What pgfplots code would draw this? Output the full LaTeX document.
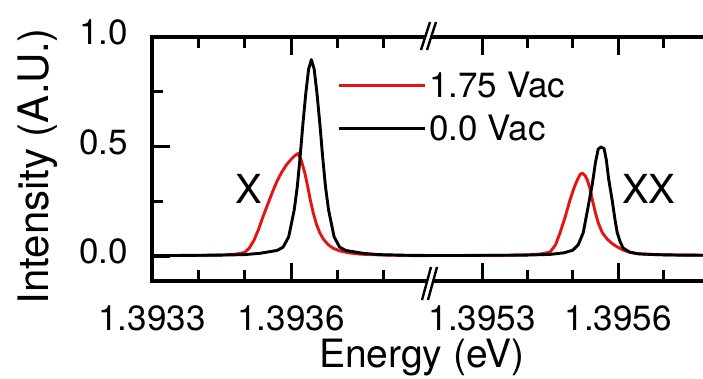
\documentclass[border=0pt]{standalone}
\usepackage{pgfplots}
\pgfplotsset{compat=1.18}
\usepackage{fontspec}
\setmainfont{TeX Gyre Heros}
\definecolor{mred}{RGB}{228,20,20}
% x values: (E - 1.3930 eV) x 10^4
\begin{document}
\begin{tikzpicture}[x=1pt,y=1pt]
\path[use as bounding box] (0,0) rectangle (703,378);
\pgfplotsset{
  common/.style={
    scale only axis, height=244pt, ymin=-0.11, ymax=1.0,
    separate axis lines,
    axis line style={line width=3.4pt, line cap=rect},
    tick align=inside,
    major tick length=18pt, minor tick length=11pt,
    tick style={line width=3pt, black},
    tick label style={font=\fontsize{35}{42}\selectfont, inner sep=0pt},
    /pgf/number format/assume math mode=true,
    xticklabel style={yshift=-24pt},
    yticklabel style={xshift=-24pt, yshift=5pt},
    every axis plot/.append style={line width=2.9pt, line join=round},
  }
}
\begin{axis}[common, at={(152pt,97pt)}, anchor=south west, width=278pt,
  xmin=3, xmax=9,
  axis x line*=box, axis y line*=left,
  xtick={3,6}, xticklabels={1.3933,1.3936}, minor xtick={4,5,7,8},
  ytick={0,0.5,1}, yticklabels={0.0,0.5,1.0}, minor ytick={0.25,0.75},
  ylabel={Intensity (A.U.)},
  ylabel style={at={(axis description cs:-0.41,0.47)}, anchor=center, rotate=0, font=\fontsize{42}{48}\selectfont},
  xlabel={Energy (eV)},
  xlabel style={at={(axis description cs:0.971,0)}, anchor=base, yshift=-86pt, font=\fontsize{39}{46}\selectfont, inner sep=0pt},
  legend style={at={(axis description cs:0.6655,0.8545)}, anchor=north west, draw=none, fill=none, inner sep=0pt,
    font=\fontsize{35}{42}\selectfont, row sep=18pt,
    nodes={inner sep=0pt, text height=25pt, text depth=0pt}},
  legend image code/.code={\draw[#1, line width=3.2pt] (0pt,0pt) -- (86pt,0pt); \path (89pt,0pt);},
  legend cell align=left,
]
\addplot[mred] coordinates {
(3.00,0.006) (3.50,0.006) (4.00,0.006) (4.50,0.008) (4.80,0.012) (5.00,0.020)
(5.10,0.040) (5.20,0.075) (5.30,0.125) (5.40,0.185) (5.50,0.240) (5.60,0.295)
(5.70,0.345) (5.80,0.385) (5.90,0.418) (6.00,0.443) (6.08,0.460) (6.15,0.470)
(6.22,0.440) (6.30,0.380) (6.36,0.320) (6.42,0.255) (6.48,0.200) (6.55,0.148)
(6.62,0.110) (6.70,0.080) (6.80,0.056) (6.90,0.040) (7.05,0.027) (7.25,0.018)
(7.50,0.012) (8.00,0.008) (8.50,0.006) (9.00,0.005)
};
\addlegendentry{1.75 Vac}
\addplot[black] coordinates {
(3.00,0.006) (3.50,0.006) (4.00,0.007) (4.50,0.008) (5.00,0.010) (5.33,0.016)
(5.70,0.029) (5.83,0.044) (5.95,0.091) (6.07,0.214) (6.135,0.318) (6.195,0.450)
(6.255,0.600) (6.32,0.745) (6.38,0.854) (6.44,0.897) (6.50,0.854) (6.56,0.745)
(6.625,0.600) (6.685,0.450) (6.745,0.318) (6.81,0.214) (6.93,0.091) (7.05,0.044)
(7.18,0.029) (7.55,0.016) (7.90,0.010) (8.50,0.007) (9.00,0.006)
};
\addlegendentry{0.0 Vac}
\node[font=\fontsize{40}{46}\selectfont, inner sep=0pt] at (axis cs:5.09,0.31) {X};
\end{axis}
\begin{axis}[common, at={(430pt,97pt)}, anchor=south west, width=278.8pt,
  xmin=21.85, xmax=28,
  axis x line*=box, axis y line=none,
  xtick={23,26}, xticklabels={1.3953,1.3956}, minor xtick={24,25,27},
  ytick=\empty,
]
\addplot[mred] coordinates {
(21.85,0.006) (22.5,0.006) (23.0,0.006) (23.5,0.007) (24.0,0.009) (24.3,0.013)
(24.5,0.022) (24.62,0.055) (24.72,0.110) (24.83,0.180) (24.94,0.260) (25.03,0.315)
(25.10,0.350) (25.16,0.375) (25.21,0.380) (25.27,0.370) (25.32,0.350) (25.38,0.310)
(25.43,0.260) (25.50,0.200) (25.56,0.155) (25.65,0.110) (25.76,0.080) (25.87,0.060)
(25.98,0.045) (26.12,0.030) (26.26,0.020) (26.5,0.013) (27.0,0.009) (28.0,0.007)
};
\addplot[black] coordinates {
(21.85,0.006) (22.5,0.006) (23.0,0.007) (23.5,0.007) (24.0,0.008) (24.5,0.011)
(24.8,0.018) (25.0,0.030) (25.12,0.055) (25.23,0.110) (25.34,0.230) (25.43,0.330)
(25.50,0.430) (25.56,0.490) (25.62,0.500) (25.69,0.492) (25.74,0.440) (25.79,0.355)
(25.87,0.255) (25.93,0.170) (25.98,0.110) (26.05,0.065) (26.11,0.040) (26.25,0.022)
(26.42,0.014) (26.8,0.010) (27.3,0.008) (28.0,0.007)
};
\node[font=\fontsize{40}{46}\selectfont, inner sep=0pt] at (axis cs:26.68,0.31) {XX};
\end{axis}
% axis break marks
\fill[white] (421,328) -- (427,328) -- (436,356) -- (430,356) -- cycle;
\draw[line width=2.4pt] (421,328) -- (430,356);
\draw[line width=2.4pt] (427,328) -- (436,356);
\fill[white] (422,78) -- (428,78) -- (437,111) -- (431,111) -- cycle;
\draw[line width=2.4pt] (422,78) -- (431,111);
\draw[line width=2.4pt] (428,78) -- (437,111);
\end{tikzpicture}
\end{document}
